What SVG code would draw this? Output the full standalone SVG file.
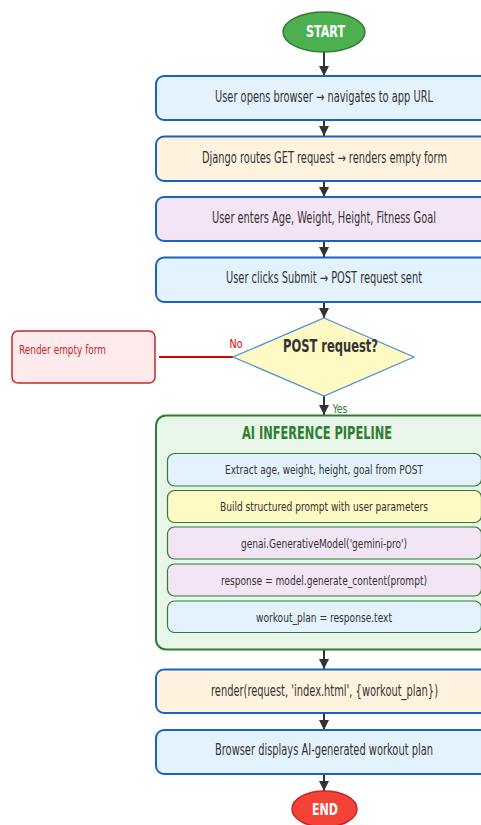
<svg xmlns="http://www.w3.org/2000/svg" width="481" height="825" viewBox="0 0 481 825">
  <defs>
    <marker id="arrow" viewBox="0 0 10 10" refX="10" refY="5" markerWidth="10" markerHeight="10" markerUnits="userSpaceOnUse" orient="auto">
      <path d="M0,0 L10,5 L0,10 Z" fill="#333"/>
    </marker>
    <style>
      text { font-family: "DejaVu Sans Condensed", "DejaVu Sans", sans-serif; font-stretch: condensed; text-anchor: middle; fill: #333; }
      .step { stroke: #1565c0; stroke-width: 2; }
      .blue { fill: #e3f2fd; }
      .orange { fill: #fff3e0; }
      .purple { fill: #f3e5f5; }
      .yellow { fill: #fff9c4; }
      .inner { stroke: #2e7d32; stroke-width: 1.2; }
      .t15 { font-size: 15px; }
      .t13 { font-size: 13px; }
      .flow { stroke: #333; stroke-width: 2; fill: none; marker-end: url(#arrow); }
    </style>
  </defs>

  <!-- connectors -->
  <g id="connectors">
    <line class="flow" x1="324" y1="52" x2="324" y2="76"/>
    <line class="flow" x1="324" y1="120" x2="324" y2="136"/>
    <line class="flow" x1="324" y1="181" x2="324" y2="197"/>
    <line class="flow" x1="324" y1="241" x2="324" y2="257"/>
    <line class="flow" x1="324" y1="302" x2="324" y2="318"/>
    <line class="flow" x1="324" y1="396" x2="324" y2="415"/>
    <line class="flow" x1="324" y1="649" x2="324" y2="669"/>
    <line class="flow" x1="324" y1="713" x2="324" y2="730"/>
    <line class="flow" x1="324" y1="774" x2="324" y2="791"/>
    <line x1="159" y1="357" x2="233" y2="357" stroke="#e00000" stroke-width="2.2"/>
    <text x="236" y="348" font-size="13" fill="#e00000" style="fill:#e00000" textLength="13" lengthAdjust="spacingAndGlyphs">No</text>
    <text x="340" y="413" font-size="13" style="fill:#2e7d32" textLength="15" lengthAdjust="spacingAndGlyphs">Yes</text>
  </g>

  <g id="start">
    <ellipse cx="324" cy="32" rx="41" ry="20" fill="#4caf50" stroke="#2e7d32" stroke-width="1.5"/>
    <text x="325.5" y="37" font-size="16" font-weight="bold" style="fill:#fff" textLength="39" lengthAdjust="spacingAndGlyphs">START</text>
  </g>

  <g id="open-browser">
    <rect class="step blue" x="156" y="76" width="336" height="44" rx="8"/>
    <text class="t15" x="324" y="102" textLength="218" lengthAdjust="spacingAndGlyphs">User opens browser → navigates to app URL</text>
  </g>

  <g id="get-route">
    <rect class="step orange" x="156" y="136.5" width="336" height="44.5" rx="8"/>
    <text class="t15" x="324.5" y="162.5" textLength="245" lengthAdjust="spacingAndGlyphs">Django routes GET request → renders empty form</text>
  </g>

  <g id="enter-data">
    <rect class="step purple" x="156" y="197" width="336" height="44" rx="8"/>
    <text class="t15" x="324" y="223" textLength="224" lengthAdjust="spacingAndGlyphs">User enters Age, Weight, Height, Fitness Goal</text>
  </g>

  <g id="submit">
    <rect class="step blue" x="156" y="257.5" width="336" height="44.5" rx="8"/>
    <text class="t15" x="324" y="283" textLength="196" lengthAdjust="spacingAndGlyphs">User clicks Submit → POST request sent</text>
  </g>

  <g id="is-post">
    <polygon points="324,318 414,357 324,396 233,357" fill="#fff9c4" stroke="#4a90d9" stroke-width="1.2"/>
    <text x="330.5" y="352" font-size="17" font-weight="bold" textLength="95" lengthAdjust="spacingAndGlyphs">POST request?</text>
  </g>

  <g id="render-empty">
    <rect x="12" y="331" width="143" height="52" rx="6" fill="#ffebee" stroke="#c62828" stroke-width="1.5"/>
    <text x="19" y="354" font-size="13" style="text-anchor:start;fill:#c62828" textLength="87" lengthAdjust="spacingAndGlyphs">Render empty form</text>
  </g>

  <g id="pipeline">
    <rect x="156" y="415.5" width="336" height="234" rx="10" fill="#e8f5e9" stroke="#2e7d32" stroke-width="2"/>
    <text x="317" y="438.5" font-size="17" font-weight="bold" style="fill:#2e7d32" textLength="150" lengthAdjust="spacingAndGlyphs">AI INFERENCE PIPELINE</text>
  </g>

  <g id="extract">
    <rect class="inner blue" x="167.5" y="453.5" width="314" height="32.5" rx="7"/>
    <text class="t13" x="324" y="474" textLength="198" lengthAdjust="spacingAndGlyphs">Extract age, weight, height, goal from POST</text>
  </g>

  <g id="build-prompt">
    <rect class="inner yellow" x="167.5" y="490.5" width="314" height="32" rx="7"/>
    <text class="t13" x="324" y="511" textLength="208" lengthAdjust="spacingAndGlyphs">Build structured prompt with user parameters</text>
  </g>

  <g id="model">
    <rect class="inner purple" x="167.5" y="527" width="314" height="32" rx="7"/>
    <text class="t13" x="324" y="548" textLength="166" lengthAdjust="spacingAndGlyphs">genai.GenerativeModel('gemini-pro')</text>
  </g>

  <g id="generate">
    <rect class="inner purple" x="167.5" y="564" width="314" height="32" rx="7"/>
    <text class="t13" x="324" y="585" textLength="206" lengthAdjust="spacingAndGlyphs">response = model.generate_content(prompt)</text>
  </g>

  <g id="plan-text">
    <rect class="inner blue" x="167.5" y="601" width="314" height="31.5" rx="7"/>
    <text class="t13" x="324" y="622" textLength="136" lengthAdjust="spacingAndGlyphs">workout_plan = response.text</text>
  </g>

  <g id="render-plan">
    <rect class="step orange" x="156" y="669.5" width="336" height="43.5" rx="8"/>
    <text class="t15" x="324.5" y="695.5" textLength="227" lengthAdjust="spacingAndGlyphs">render(request, 'index.html', {workout_plan})</text>
  </g>

  <g id="display">
    <rect class="step blue" x="156" y="730" width="336" height="44" rx="8"/>
    <text class="t15" x="324" y="755" textLength="218" lengthAdjust="spacingAndGlyphs">Browser displays AI-generated workout plan</text>
  </g>

  <g id="end">
    <ellipse cx="324.5" cy="809" rx="32.5" ry="18" fill="#f44336" stroke="#c62828" stroke-width="1.5"/>
    <text x="325" y="815" font-size="16" font-weight="bold" style="fill:#fff" textLength="26" lengthAdjust="spacingAndGlyphs">END</text>
  </g>
</svg>
